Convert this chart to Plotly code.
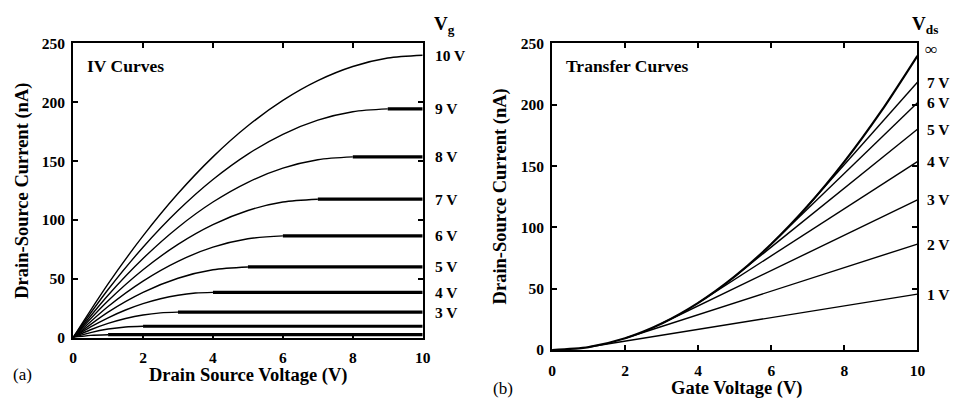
import plotly.graph_objects as go

# ---------------- data ----------------
# Left panel: IV curves, one per gate voltage
vg_levels = [1, 2, 3, 4, 5, 6, 7, 8, 9, 10]
vg_labels = ["1 V", "2 V", "3 V", "4 V", "5 V", "6 V", "7 V", "8 V", "9 V", "10 V"]
# rising (triode) part of each curve: Vds points and currents
iv_rise_x = {
    1: [0, 0.5, 1],
    2: [0, 0.5, 1, 1.5, 2],
    3: [0, 0.5, 1, 1.5, 2, 2.5, 3],
    4: [0, 0.5, 1, 1.5, 2, 2.5, 3, 3.5, 4],
    5: [0, 1, 2, 3, 4, 5],
    6: [0, 1, 2, 3, 4, 5, 6],
    7: [0, 1, 2, 3, 4, 5, 6, 7],
    8: [0, 1, 2, 3, 4, 5, 6, 7, 8],
    9: [0, 1, 2, 3, 4, 5, 6, 7, 8, 9],
    10: [0, 1, 2, 3, 4, 5, 6, 7, 8, 9, 10],
}
iv_rise_y = {
    1: [0, 1.8, 2.4],
    2: [0, 4.2, 7.2, 9.0, 9.6],
    3: [0, 6.6, 12.0, 16.2, 19.2, 21.0, 21.6],
    4: [0, 9.0, 16.8, 23.4, 28.8, 33.0, 36.0, 37.8, 38.4],
    5: [0, 21.6, 38.4, 50.4, 57.6, 60.0],
    6: [0, 26.4, 48.0, 64.8, 76.8, 84.0, 86.4],
    7: [0, 31.2, 57.6, 79.2, 96.0, 108.0, 115.2, 117.6],
    8: [0, 36.0, 67.2, 93.6, 115.2, 132.0, 144.0, 151.2, 153.6],
    9: [0, 40.8, 76.8, 108.0, 134.4, 156.0, 172.8, 184.8, 192.0, 194.4],
    10: [0, 45.6, 86.4, 122.4, 153.6, 180.0, 201.6, 218.4, 230.4, 237.6, 240.0],
}
# saturation current of each curve (flat part up to Vds = 10)
iv_sat = {1: 2.4, 2: 9.6, 3: 21.6, 4: 38.4, 5: 60.0, 6: 86.4,
          7: 117.6, 8: 153.6, 9: 194.4, 10: 240.0}
iv_labelled = [3, 4, 5, 6, 7, 8, 9, 10]

# Right panel: transfer curves
sat_vg = [0, 1, 2, 3, 4, 5, 6, 7, 8, 9, 10]
sat_i = [0, 2.4, 9.6, 21.6, 38.4, 60.0, 86.4, 117.6, 153.6, 194.4, 240.0]
vds_levels = [1, 2, 3, 4, 5, 6, 7]
vds_labels = ["1 V", "2 V", "3 V", "4 V", "5 V", "6 V", "7 V"]
branch_i = [2.4, 9.6, 21.6, 38.4, 60.0, 86.4, 117.6]   # current where line leaves parabola
end_i = [45.6, 86.4, 122.4, 153.6, 180.0, 201.6, 218.4]  # current at Vg = 10 V

# ---------------- figure ----------------
W, H = 960, 403
FONT = "Liberation Serif"
fig = go.Figure()

def px(x):
    return x / W

def py(y):
    return 1 - y / H

thin = 1.4
thick = 3.2

for vg in vg_levels:
    fig.add_trace(go.Scatter(x=iv_rise_x[vg], y=iv_rise_y[vg], mode="lines",
                             line=dict(color="black", width=thin, shape="spline", smoothing=0.8),
                             xaxis="x", yaxis="y", showlegend=False, hoverinfo="skip"))
    fig.add_trace(go.Scatter(x=[vg, 10], y=[iv_sat[vg], iv_sat[vg]], mode="lines",
                             line=dict(color="black", width=thick),
                             xaxis="x", yaxis="y", showlegend=False, hoverinfo="skip"))

for d, b, e in zip(vds_levels, branch_i, end_i):
    fig.add_trace(go.Scatter(x=[d, 10], y=[b, e], mode="lines",
                             line=dict(color="black", width=thin),
                             xaxis="x2", yaxis="y2", showlegend=False, hoverinfo="skip"))
fig.add_trace(go.Scatter(x=sat_vg, y=sat_i, mode="lines",
                         line=dict(color="black", width=2.2, shape="spline", smoothing=0.8),
                         xaxis="x2", yaxis="y2", showlegend=False, hoverinfo="skip"))

tickfont = dict(family=FONT, size=15.5, color="black", weight="bold")
common_x = dict(range=[0, 10], tickvals=[0, 2, 4, 6, 8, 10], ticks="inside", ticklen=5,
                tickwidth=1.5, tickcolor="black", showline=True, linecolor="black",
                linewidth=2, mirror="ticks", showgrid=False, zeroline=False,
                tickfont=tickfont, fixedrange=True, ticklabelstandoff=5)
common_y = dict(range=[0, 250], tickvals=[0, 50, 100, 150, 200, 250], ticks="inside",
                ticklen=5, tickwidth=1.5, tickcolor="black", showline=True,
                linecolor="black", linewidth=2, mirror="ticks", showgrid=False,
                zeroline=False, tickfont=tickfont, fixedrange=True, ticklabelstandoff=3)

fig.update_layout(
    width=W, height=H, margin=dict(l=0, r=0, t=0, b=0),
    paper_bgcolor="white", plot_bgcolor="white",
    xaxis=dict(common_x, domain=[px(70), px(424)], anchor="y"),
    yaxis=dict(common_y, domain=[py(343), py(36)], anchor="x"),
    xaxis2=dict(common_x, domain=[px(555), px(925)], anchor="y2"),
    yaxis2=dict(common_y, domain=[py(356), py(36)], anchor="x2"),
)

ann = []

def text(x, y, s, size, xanchor="center", angle=0, xref="paper", yref="paper", yanchor="middle"):
    ann.append(dict(x=x, y=y, xref=xref, yref=yref, text=s, showarrow=False,
                    xanchor=xanchor, yanchor=yanchor, textangle=angle,
                    font=dict(family=FONT, size=size, color="black", weight="bold")))

# axis titles
text(px(248), py(383), "Drain Source Voltage (V)", 18.5)
text(px(742), py(396), "Gate Voltage (V)", 18.5)
text(px(19), py(190), "Drain-Source Current (nA)", 18.5, angle=-90)
text(px(503), py(196), "Drain-Source Current (nA)", 18.5, angle=-90)
# panel tags
ann.append(dict(x=px(7), y=py(382), xref="paper", yref="paper", text="(a)", showarrow=False,
                xanchor="left", yanchor="middle", font=dict(family=FONT, size=17, color="black")))
ann.append(dict(x=px(493), y=py(396), xref="paper", yref="paper", text="(b)", showarrow=False,
                xanchor="left", yanchor="middle", font=dict(family=FONT, size=17, color="black")))
# in-plot titles
text(px(82), py(60), "IV Curves", 17.5, xanchor="left")
text(px(567), py(60), "Transfer Curves", 17.5, xanchor="left")

# curve labels, left panel
for vg in iv_labelled:
    text(px(434), iv_sat[vg], vg_labels[vg - 1], 15.5, xanchor="left", yref="y")
text(px(433), py(17), "V<sub>g</sub>", 19, xanchor="left")
# curve labels, right panel
for d, e, lab in zip(vds_levels, end_i, vds_labels):
    text(px(933), e, lab, 15.5, xanchor="left", yref="y2")
text(px(931), sat_i[-1] + 5, "∞", 17, xanchor="left", yref="y2")
text(px(917), py(17), "V<sub>ds</sub>", 19, xanchor="left")

fig.update_layout(annotations=ann)
fig.write_html("out.html")
